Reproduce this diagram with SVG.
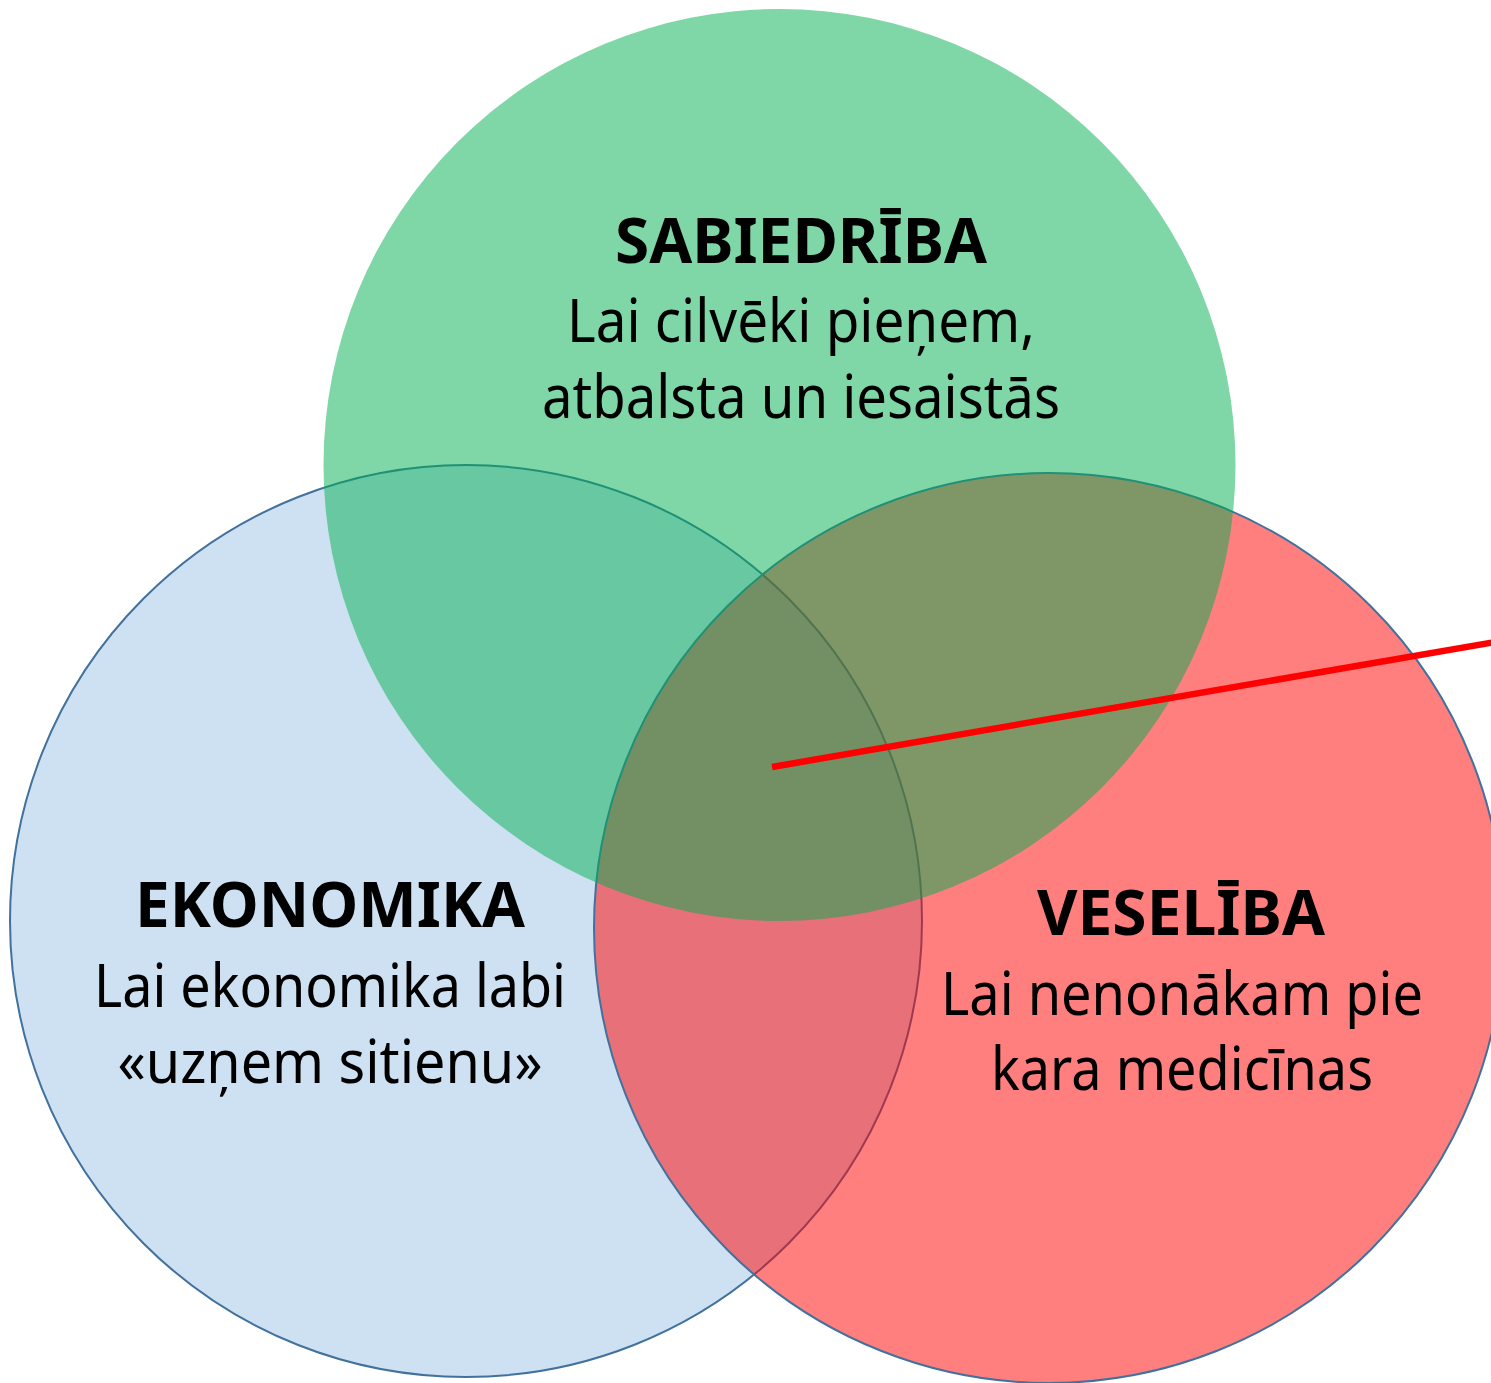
<svg xmlns="http://www.w3.org/2000/svg" width="1491" height="1383" viewBox="0 0 1491 1383">
<style>
.c{stroke:#41719C;stroke-width:2}
.t{font-family:"Noto Sans","Open Sans","DejaVu Sans",sans-serif;font-size:60px;fill:#000;text-anchor:middle}
.b{font-weight:bold;font-size:62px}
</style>
<rect width="1491" height="1383" fill="#ffffff"/>
<g id="ekonomika">
<circle class="c" cx="466" cy="921" r="456" fill="#CEE1F2"/>
</g>
<g id="veseliba">
<circle class="c" cx="1049" cy="928" r="455" fill="#FF0000" fill-opacity="0.5"/>
</g>
<g id="sabiedriba">
<circle cx="779.5" cy="465" r="456" fill="#00B050" fill-opacity="0.5"/>
</g>
<g id="connectors">
<line x1="772" y1="767" x2="1495" y2="642" stroke="#FF0000" stroke-width="6.5"/>
</g>
<g id="labels-sabiedriba">
<text class="t b" x="801" y="263" textLength="372" lengthAdjust="spacingAndGlyphs">SABIEDRĪBA</text>
<text class="t" x="801" y="342" textLength="468" lengthAdjust="spacingAndGlyphs">Lai cilvēki pieņem,</text>
<text class="t" x="801" y="418" textLength="518" lengthAdjust="spacingAndGlyphs">atbalsta un iesaistās</text>
</g>
<g id="labels-ekonomika">
<text class="t b" x="330" y="927" textLength="390" lengthAdjust="spacingAndGlyphs">EKONOMIKA</text>
<text class="t" x="330" y="1007" textLength="472" lengthAdjust="spacingAndGlyphs">Lai ekonomika labi</text>
<text class="t" x="330" y="1083" textLength="425" lengthAdjust="spacingAndGlyphs">«uzņem sitienu»</text>
</g>
<g id="labels-veseliba">
<text class="t b" x="1181" y="935" textLength="288" lengthAdjust="spacingAndGlyphs">VESELĪBA</text>
<text class="t" x="1182" y="1015" textLength="482" lengthAdjust="spacingAndGlyphs">Lai nenonākam pie</text>
<text class="t" x="1182" y="1090" textLength="382" lengthAdjust="spacingAndGlyphs">kara medicīnas</text>
</g>
</svg>
